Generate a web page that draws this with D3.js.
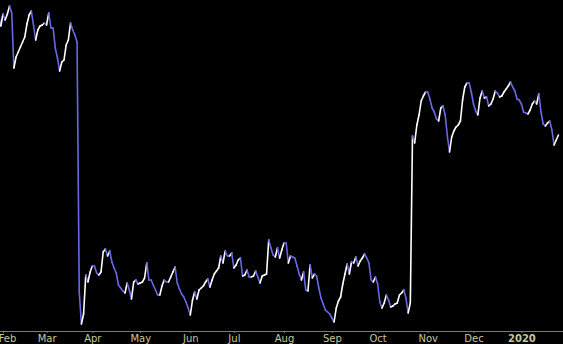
<!DOCTYPE html>
<html>
<head>
<meta charset="utf-8">
<script src="https://cdn.jsdelivr.net/npm/d3@7"></script>
<style>
  html, body { margin: 0; padding: 0; background: #000; }
  svg { display: block; }
</style>
</head>
<body>
<svg class="chart"></svg>
<script>
// daily closes, one array per month (trading days only)
var jan19 = [38.5, 37.4];
var feb19 = [38.6, 38.0, 38.6, 39.4, 38.7, 33.2, 34.3, 34.8, 35.3, 35.8,
             36.3, 37.6, 38.5, 38.9, 37.5, 36.0, 37.0, 37.4, 37.5, 37.7];
var mar19 = [37.5, 38.7, 37.2, 37.2, 35.2, 34.2, 32.9, 33.8, 34.0, 35.5,
             36.0, 37.7, 37.0, 36.5, 35.8, 10.8, 7.6, 8.6, 12.5, 11.8, 12.8];
var apr19 = [13.4, 13.4, 12.7, 12.5, 12.8, 14.8, 15.1, 14.4, 14.9, 13.8,
             13.2, 12.7, 11.5, 11.2, 10.9, 10.7, 11.7, 11.0, 10.1, 11.8,
             12.0, 11.6];
var may19 = [11.7, 11.8, 12.2, 13.7, 12.0, 12.0, 11.5, 11.0, 10.5, 10.5,
             11.4, 12.0, 11.8, 11.8, 12.3, 12.8, 13.3, 11.7, 11.1, 10.6,
             10.3, 9.8, 9.2];
var jun19 = [8.5, 10.0, 10.8, 10.1, 11.0, 11.2, 11.4, 11.8, 12.1, 11.3,
             12.0, 12.6, 12.9, 13.2, 14.4, 13.7, 14.9, 14.4, 14.4, 14.7];
var jul19 = [13.2, 13.5, 14.0, 14.2, 12.4, 12.5, 13.0, 12.3, 12.3, 12.4,
             12.9, 12.3, 11.7, 12.4, 12.5, 12.6, 16.0, 15.2, 14.5, 14.3,
             15.2, 14.2, 15.0];
var aug19 = [15.7, 15.7, 13.7, 14.4, 14.3, 14.2, 13.4, 12.6, 12.0, 12.8,
             11.0, 10.9, 13.5, 12.2, 12.6, 12.4, 11.2, 10.2, 9.6, 9.0,
             8.8, 8.6];
var sep19 = [8.2, 7.8, 9.2, 9.9, 10.3, 11.6, 12.6, 13.6, 12.6, 13.8,
             13.7, 14.3, 13.4, 13.9, 14.2, 14.6, 14.2, 13.7, 12.0, 11.8,
             12.3];
var oct19 = [11.6, 9.8, 9.2, 9.7, 10.5, 10.0, 9.3, 9.4, 9.6, 9.7,
             10.5, 10.7, 11.0, 10.2, 8.7, 9.7, 26.4, 25.7, 27.5, 28.5,
             29.9, 30.4, 30.8];
var nov19 = [30.8, 30.1, 29.2, 28.8, 28.1, 27.9, 29.2, 29.4, 28.5, 26.4,
             24.8, 26.3, 26.9, 27.3, 27.5, 27.9, 30.0, 31.3, 31.7, 31.7,
             30.8];
var dec19 = [29.6, 28.9, 28.5, 30.2, 30.9, 30.2, 30.3, 29.4, 29.6, 30.1,
             30.9, 30.7, 30.3, 30.4, 30.8, 31.1, 31.4, 31.8, 31.3, 30.9,
             30.1, 30.0];
var jan20 = [29.6, 28.8, 28.7, 28.6, 29.0, 29.6, 29.9, 29.6, 30.6, 28.8,
             27.6, 27.4, 27.7, 27.9, 27.0, 25.5, 26.0, 26.5];

var closes = [].concat(jan19, feb19, mar19, apr19, may19, jun19, jul19,
                       aug19, sep19, oct19, nov19, dec19, jan20);
var monthNames = ['Jan', 'Feb', 'Mar', 'Apr', 'May', 'Jun',
                  'Jul', 'Aug', 'Sep', 'Oct', 'Nov', 'Dec'];

var width = 563, height = 344;

// trading days (weekdays) starting Jan 30 2019
var dates = [];
var day = new Date(2019, 0, 30);
while (dates.length < closes.length) {
    if (day.getDay() !== 0 && day.getDay() !== 6) dates.push(new Date(day));
    day = d3.timeDay.offset(day, 1);
}
var data = closes.map(function(v, i) { return { i: i, date: dates[i], value: v }; });

var svg = d3.select('.chart')
    .attr('width', width)
    .attr('height', height);

svg.append('rect')
    .attr('width', width).attr('height', height)
    .attr('fill', '#000');

var x = d3.scaleLinear()
    .domain([2, 240])
    .range([3, 521.4]);

var y = d3.scaleLinear()
    .domain([5, 40])
    .range([350, 0]);

// first trading day of each month -> tick
var monthStarts = data.filter(function(d, i) {
    return i > 0 && d.date.getMonth() !== data[i - 1].date.getMonth();
});
var tickIdx = monthStarts.map(function(d) { return d.i; });

var axis = d3.axisBottom(x)
    .tickValues(tickIdx)
    .tickSize(2)
    .tickSizeOuter(0)
    .tickPadding(2)
    .tickFormat(function(i) {
        var dt = data[i].date;
        return dt.getMonth() === 0 ? dt.getFullYear() : monthNames[dt.getMonth()];
    });

var gx = svg.append('g')
    .attr('transform', 'translate(0,331)')
    .call(axis);

gx.select('.domain').remove();
gx.append('line')
    .attr('x1', 0).attr('x2', width)
    .attr('y1', 0.5).attr('y2', 0.5)
    .attr('stroke', '#7a7a7a');
gx.selectAll('.tick line').attr('stroke', '#7a7a7a');
gx.selectAll('.tick text')
    .attr('fill', '#c9c59a')
    .style('font-family', '"DejaVu Sans", Verdana, sans-serif')
    .style('font-size', '10px')
    .style('font-weight', function(i) {
        return data[i].date.getMonth() === 0 ? 'bold' : 'normal';
    });

// first label sits at the left edge, nudge it so more of it shows
gx.select('.tick text').attr('dx', 4);

// price line, white on up-moves, blue on down-moves
var line = d3.line()
    .x(function(d) { return x(d.i); })
    .y(function(d) { return y(d.value); });

svg.append('g')
    .selectAll('path')
    .data(d3.pairs(data))
    .enter().append('path')
    .attr('d', function(p) { return line(p); })
    .attr('fill', 'none')
    .attr('stroke-width', 1.6)
    .attr('stroke-linecap', 'round')
    .attr('stroke', function(p) { return p[1].value > p[0].value ? '#ffffff' : '#6868e6'; });
</script>
</body>
</html>
